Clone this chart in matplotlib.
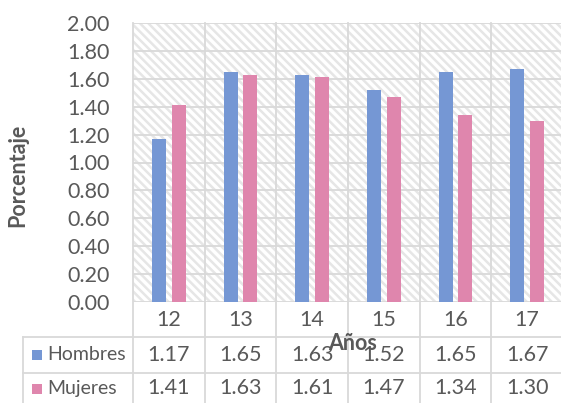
import matplotlib.pyplot as plt
import matplotlib.patches as mpatches
import numpy as np

plt.rcParams['font.family'] = ['Lato', 'DejaVu Sans']
plt.rcParams['hatch.linewidth'] = 1.8

years = ['12', '13', '14', '15', '16', '17']
hombres = [1.17, 1.65, 1.63, 1.52, 1.65, 1.67]
mujeres = [1.41, 1.63, 1.61, 1.47, 1.34, 1.30]
series = [('Hombres', hombres, '#7597d4'), ('Mujeres', mujeres, '#df86ad')]

W, H = 561, 403
fig = plt.figure(figsize=(W / 100, H / 100), dpi=100)

# plot area in pixels: left 133, right 563 (runs off the edge), top 23, bottom 302
x0, x1, ytop, ybot = 133, 563, 23, 302
ax = fig.add_axes([x0 / W, (H - ybot) / H, (x1 - x0) / W, (ybot - ytop) / H])

grid_c = '#d9d9d9'
text_c = '#595959'
fs = 15.5

# hatched background
bg = mpatches.Rectangle((0, 0), 1, 1, transform=ax.transAxes, facecolor='white',
                        edgecolor='#e6e6e6', linewidth=0, hatch='\\\\\\\\', zorder=0)
ax.add_patch(bg)

x = np.arange(len(years))
bw = 0.195
off = 0.139
ax.bar(x - off, hombres, bw, color=series[0][2], zorder=3)
ax.bar(x + off, mujeres, bw, color=series[1][2], zorder=3)

ax.set_xlim(-0.5, len(years) - 0.5)
ax.set_ylim(0, 2.0)
ax.set_yticks(np.arange(0, 2.01, 0.2))
ax.set_yticklabels([f'{v:.2f}' for v in np.arange(0, 2.01, 0.2)], fontsize=fs, color=text_c)
ax.tick_params(axis='y', length=0, pad=17)
ax.set_xticks([])
for s in ax.spines.values():
    s.set_visible(False)

for v in np.arange(0, 2.01, 0.2):
    ax.axhline(v, color=grid_c, lw=1.3, zorder=1)

# table geometry in axes fraction
ph = ybot - ytop
def yf(py):
    return (ybot - py) / ph

row_edges = [yf(302), yf(337), yf(373), yf(404)]
leg_left = (23 - x0) / (x1 - x0) * len(years) - 0.5

# vertical lines: category boundaries through plot and table
trans = ax.get_xaxis_transform()
for b in np.arange(-0.5, len(years) + 0.5, 1):
    ax.plot([b, b], [row_edges[3], 1], color=grid_c, lw=1.3, transform=trans,
            clip_on=False, zorder=1)
# left edge of legend column
ax.plot([leg_left, leg_left], [row_edges[3], row_edges[1]], color=grid_c, lw=1.3,
        transform=trans, clip_on=False)
for r in row_edges[1:3]:
    ax.plot([leg_left, len(years)], [r, r], color=grid_c, lw=1.3, transform=trans,
            clip_on=False)

# category row
yc = (row_edges[0] + row_edges[1]) / 2
for i, yr in enumerate(years):
    ax.text(i, yc, yr, transform=trans, ha='center', va='center', fontsize=fs,
            color=text_c)

# data rows with legend keys
for k, (name, vals, col) in enumerate(series):
    ym = (row_edges[k + 1] + row_edges[k + 2]) / 2
    for i, v in enumerate(vals):
        ax.text(i, ym, f'{v:.2f}', transform=trans, ha='center', va='center',
                fontsize=fs, color=text_c)
    yp = H - (ax.transAxes.transform((0, ym))[1])
    fig.patches.append(mpatches.Rectangle((32 / W, (H - yp - 5) / H), 10 / W, 10 / H,
                                          transform=fig.transFigure, facecolor=col,
                                          edgecolor='none'))
    fig.text(47 / W, 1 - yp / H, name, ha='left', va='center', fontsize=14,
             color=text_c)

fig.text(353 / W, 1 - 343 / H, 'Años', ha='center', va='center', fontsize=fs,
         fontweight='bold', color=text_c)
fig.text(18 / W, 1 - 175 / H, 'Porcentaje', ha='center', va='center', rotation=90,
         fontsize=fs, fontweight='bold', color=text_c)

fig.savefig('out.png', dpi=100)
